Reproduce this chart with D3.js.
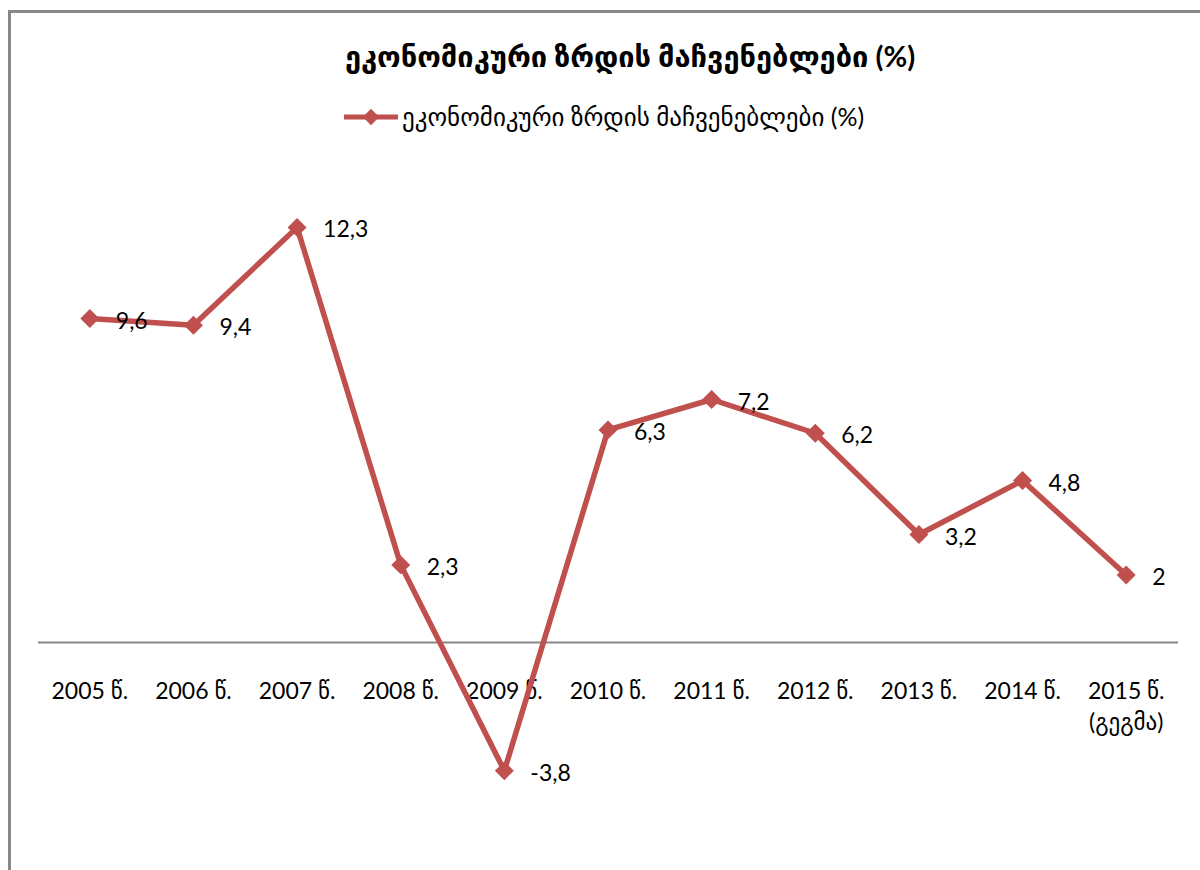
<!DOCTYPE html>
<html>
<head>
<meta charset="utf-8">
<script src="https://cdn.jsdelivr.net/npm/d3@7"></script>
<style>
  body { margin: 0; background: #fff; }
  svg { display: block; }
  text { font-family: Lato, 'DejaVu Sans', sans-serif; fill: #000; }
</style>
</head>
<body>
<div id="chart"></div>
<script>
const years = ['2005 წ.', '2006 წ.', '2007 წ.', '2008 წ.', '2009 წ.', '2010 წ.',
  '2011 წ.', '2012 წ.', '2013 წ.', '2014 წ.', '2015 წ.'];
const yearNotes = ['', '', '', '', '', '', '', '', '', '', '(გეგმა)'];
const growth = [9.6, 9.4, 12.3, 2.3, -3.8, 6.3, 7.2, 6.2, 3.2, 4.8, 2];
const valueLabels = ['9,6', '9,4', '12,3', '2,3', '-3,8', '6,3', '7,2', '6,2', '3,2', '4,8', '2'];
const seriesName = 'ეკონომიკური ზრდის მაჩვენებლები (%)';

const W = 1200, H = 870;
const Color = '#C0504D';

const svg = d3.select('#chart').append('svg')
  .attr('width', W)
  .attr('height', H);

// outer frame (cut off at right and bottom like the source)
svg.append('path')
  .attr('d', `M9.5,${H} V11.5 H${W}`)
  .attr('fill', 'none')
  .attr('stroke', '#888')
  .attr('stroke-width', 3);

const x = d3.scaleBand()
  .domain(years)
  .range([38, 1178]);

const y = d3.scaleLinear()
  .domain([-6, 14])
  .range([845, 170]);

// title
svg.append('text')
  .attr('x', 630)
  .attr('y', 67)
  .attr('text-anchor', 'middle')
  .style('font-size', '29px')
  .style('font-weight', 'bold')
  .text(seriesName);

// legend
const legend = svg.append('g').attr('transform', 'translate(344,117)');
legend.append('line')
  .attr('x1', 0).attr('x2', 54)
  .attr('stroke', Color)
  .attr('stroke-width', 5);
legend.append('path')
  .attr('d', d3.symbol(d3.symbolDiamond2, 170))
  .attr('transform', 'translate(27,0)')
  .attr('fill', Color);
legend.append('text')
  .attr('x', 58)
  .attr('dy', '0.35em')
  .style('font-size', '25px')
  .text(seriesName);

// zero axis line
svg.append('line')
  .attr('x1', x.range()[0]).attr('x2', x.range()[1])
  .attr('y1', y(0)).attr('y2', y(0))
  .attr('stroke', '#888')
  .attr('stroke-width', 2);

// category labels
const xAxis = svg.append('g');
xAxis.selectAll('text.year')
  .data(years)
  .enter()
  .append('text')
  .attr('class', 'year')
  .attr('x', d => x(d) + x.bandwidth() / 2)
  .attr('y', 699)
  .attr('text-anchor', 'middle')
  .style('font-size', '23px')
  .text(d => d);
xAxis.selectAll('text.note')
  .data(years.filter((d, i) => yearNotes[i]))
  .enter()
  .append('text')
  .attr('class', 'note')
  .attr('x', d => x(d) + x.bandwidth() / 2)
  .attr('y', 730)
  .attr('text-anchor', 'middle')
  .style('font-size', '23px')
  .text(d => yearNotes[years.indexOf(d)]);

const pts = years.map((d, i) => ({ cat: d, v: growth[i], label: valueLabels[i] }));

const line = d3.line()
  .x(d => x(d.cat) + x.bandwidth() / 2)
  .y(d => y(d.v));

svg.append('path')
  .datum(pts)
  .attr('d', line)
  .attr('fill', 'none')
  .attr('stroke', Color)
  .attr('stroke-width', 5.5)
  .attr('stroke-linejoin', 'round');

svg.selectAll('path.marker')
  .data(pts)
  .enter()
  .append('path')
  .attr('class', 'marker')
  .attr('d', d3.symbol(d3.symbolDiamond2, 230))
  .attr('transform', d => `translate(${x(d.cat) + x.bandwidth() / 2},${y(d.v)})`)
  .attr('fill', Color);

svg.selectAll('text.value')
  .data(pts)
  .enter()
  .append('text')
  .attr('class', 'value')
  .attr('x', d => x(d.cat) + x.bandwidth() / 2 + 26)
  .attr('y', d => y(d.v) + 2)
  .attr('dy', '0.35em')
  .style('font-size', '23px')
  .text(d => d.label);
</script>
</body>
</html>
